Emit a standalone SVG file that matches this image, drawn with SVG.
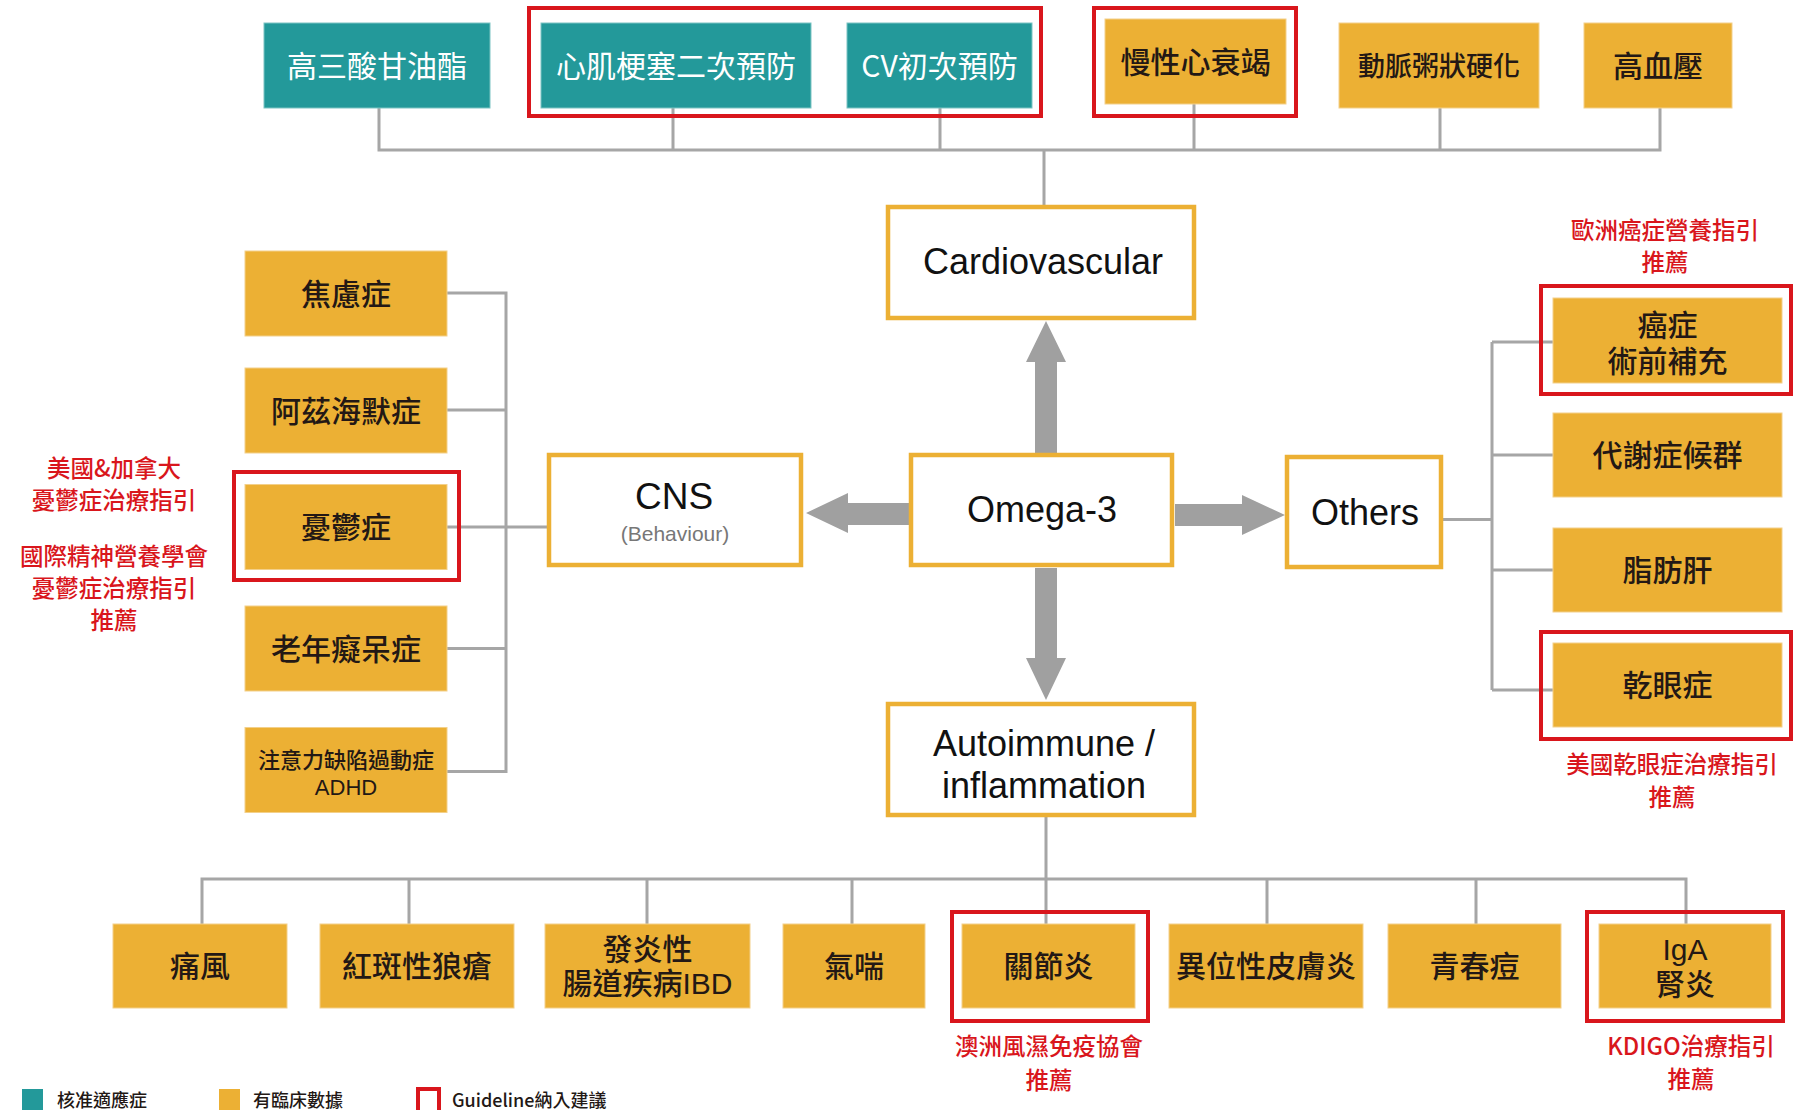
<svg xmlns="http://www.w3.org/2000/svg" width="1794" height="1110" viewBox="0 0 1794 1110">
<defs>
<style>
.teal{fill:#23999a;stroke:#7cc4c3;stroke-width:1}
.org{fill:#ecb034;stroke:#f3d08a;stroke-width:1}
.cat{fill:#ffffff;stroke:#ecb034;stroke-width:4.5}
.red{fill:none;stroke:#d9161c;stroke-width:4}
.ln{fill:none;stroke:#a6a6a6;stroke-width:3}
.arr{fill:#a0a0a0}
.tw{font-family:"Noto Sans CJK TC","Noto Sans CJK SC",sans-serif;font-size:30px;fill:#ffffff;text-anchor:middle}
.td{font-family:"Noto Sans CJK TC","Noto Sans CJK SC",sans-serif;font-size:30px;font-weight:500;fill:#231815;text-anchor:middle}
.td2{font-family:"Liberation Sans","Noto Sans CJK TC","Noto Sans CJK SC",sans-serif;font-size:30px;font-weight:500;fill:#231815;text-anchor:middle}
.tl{font-family:"Liberation Sans","Noto Sans CJK TC",sans-serif;font-size:36px;fill:#111111;text-anchor:middle}
.tr{font-family:"Noto Sans CJK TC","Noto Sans CJK SC",sans-serif;font-size:23.5px;font-weight:500;fill:#d9161c;text-anchor:middle}
.lg{font-family:"Noto Sans CJK TC","Noto Sans CJK SC",sans-serif;font-size:18px;font-weight:500;fill:#231815}
</style>
</defs>
<rect width="1794" height="1110" fill="#ffffff"/>

<g id="connectors">
<path class="ln" d="M379 108V150H1660V108M673 108V150M940 108V150M1194 104V150M1440 108V150M1044 150V206"/>
<path class="ln" d="M447 293H506V771.5H447M447 410H506M447 527H547M447 648.5H506"/>
<path class="ln" d="M1443 519.5H1492M1492 342V690M1492 342H1553M1492 455H1553M1492 570H1553M1492 690H1553"/>
<path class="ln" d="M1046 816V924M202 924V879H1686V924M409 879V924M647 879V924M852 879V924M1267 879V924M1476 879V924"/>
<polygon class="arr" points="1046,321 1066,362 1057,362 1057,453 1035,453 1035,362 1026,362"/>
<polygon class="arr" points="1035,568 1057,568 1057,658 1066,658 1046,700 1026,658 1035,658"/>
<polygon class="arr" points="806,513 848,493 848,503 909,503 909,525 848,525 848,533"/>
<polygon class="arr" points="1175,504 1242,504 1242,495 1285,515 1242,535 1242,526 1175,526"/>
</g>

<g id="omega3"><rect class="cat" x="911" y="455" width="261" height="110"/><text class="tl" x="1042" y="522">Omega-3</text></g>
<g id="cardiovascular"><rect class="cat" x="888" y="207" width="306" height="111"/><text class="tl" x="1043" y="274">Cardiovascular</text></g>
<g id="cns"><rect class="cat" x="549" y="455" width="252" height="110"/><text class="tl" x="674" y="509" style="font-size:37px">CNS</text><text class="tl" x="675" y="541" style="font-size:21px;fill:#777777">(Behaviour)</text></g>
<g id="others"><rect class="cat" x="1287" y="457" width="154" height="110"/><text class="tl" x="1365" y="525">Others</text></g>
<g id="autoimmune"><rect class="cat" x="888" y="704" width="306" height="111"/><text class="tl" x="1044" y="756"><tspan x="1044" y="756">Autoimmune /</tspan><tspan x="1044" y="798">inflammation</tspan></text></g>

<g id="tg"><rect class="teal" x="264" y="23" width="226" height="85"/><text class="tw" x="377" y="77">高三酸甘油酯</text></g>
<g id="mi"><rect class="teal" x="541" y="23" width="270" height="85"/><text class="tw" x="676" y="77">心肌梗塞二次預防</text></g>
<g id="cvprim"><rect class="teal" x="847" y="23" width="185" height="85"/><text class="tw" x="939.5" y="77">CV初次預防</text></g>
<g id="guide-cv"><rect class="red" x="529" y="8" width="512" height="108"/></g>
<g id="hf"><rect class="org" x="1105" y="19" width="181" height="85"/><text class="td" x="1195.5" y="73">慢性心衰竭</text><rect class="red" x="1094" y="8" width="202" height="108"/></g>
<g id="athero"><rect class="org" x="1339" y="23" width="200" height="85"/><text class="td" x="1439" y="76" style="font-size:27px">動脈粥狀硬化</text></g>
<g id="htn"><rect class="org" x="1584" y="23" width="148" height="85"/><text class="td" x="1658" y="77">高血壓</text></g>

<g id="anxiety"><rect class="org" x="245" y="251" width="202" height="85"/><text class="td" x="346" y="305">焦慮症</text></g>
<g id="alz"><rect class="org" x="245" y="368" width="202" height="85"/><text class="td" x="346" y="422">阿茲海默症</text></g>
<g id="dep"><rect class="org" x="245" y="484.5" width="202" height="85"/><text class="td" x="346" y="538">憂鬱症</text><rect class="red" x="234" y="472" width="225" height="108"/></g>
<g id="dementia"><rect class="org" x="245" y="606" width="202" height="85"/><text class="td" x="346" y="660">老年癡呆症</text></g>
<g id="adhd"><rect class="org" x="245" y="727.5" width="202" height="85"/><text class="td2" x="346" y="768" style="font-size:22px"><tspan x="346" y="768">注意力缺陷過動症</tspan><tspan x="346" y="795">ADHD</tspan></text></g>
<g id="dep-note"><text class="tr" x="114" y="477"><tspan x="114" y="477">美國&amp;加拿大</tspan><tspan x="114" y="509">憂鬱症治療指引</tspan></text><text class="tr" x="114" y="565"><tspan x="114" y="565">國際精神營養學會</tspan><tspan x="114" y="597">憂鬱症治療指引</tspan><tspan x="114" y="629">推薦</tspan></text></g>

<g id="cancer"><rect class="org" x="1553" y="298" width="229" height="85"/><text class="td2" x="1667.5" y="336"><tspan x="1667.5" y="336">癌症</tspan><tspan x="1667.5" y="372">術前補充</tspan></text><rect class="red" x="1541" y="286" width="250" height="108"/></g>
<g id="cancer-note"><text class="tr" x="1665" y="239"><tspan x="1665" y="239">歐洲癌症營養指引</tspan><tspan x="1665" y="271">推薦</tspan></text></g>
<g id="metab"><rect class="org" x="1553" y="413" width="229" height="84"/><text class="td" x="1667.5" y="466">代謝症候群</text></g>
<g id="fattyliver"><rect class="org" x="1553" y="528" width="229" height="84"/><text class="td" x="1667.5" y="581">脂肪肝</text></g>
<g id="dryeye"><rect class="org" x="1553" y="643" width="229" height="84"/><text class="td" x="1667.5" y="696">乾眼症</text><rect class="red" x="1541" y="632" width="250" height="107"/></g>
<g id="dryeye-note"><text class="tr" x="1672" y="773"><tspan x="1672" y="773">美國乾眼症治療指引</tspan><tspan x="1672" y="806">推薦</tspan></text></g>

<g id="gout"><rect class="org" x="113" y="924" width="174" height="84"/><text class="td" x="200" y="977">痛風</text></g>
<g id="sle"><rect class="org" x="320" y="924" width="194" height="84"/><text class="td" x="417" y="977">紅斑性狼瘡</text></g>
<g id="ibd"><rect class="org" x="545" y="924" width="205" height="84"/><text class="td2" x="647.5" y="960"><tspan x="647.5" y="960">發炎性</tspan><tspan x="647.5" y="994">腸道疾病IBD</tspan></text></g>
<g id="asthma"><rect class="org" x="783" y="924" width="142" height="84"/><text class="td" x="854" y="977">氣喘</text></g>
<g id="arthritis"><rect class="org" x="962" y="924" width="173" height="84"/><text class="td" x="1048.5" y="977">關節炎</text><rect class="red" x="952" y="912" width="196" height="109"/></g>
<g id="arthritis-note"><text class="tr" x="1049" y="1055"><tspan x="1049" y="1055">澳洲風濕免疫協會</tspan><tspan x="1049" y="1089">推薦</tspan></text></g>
<g id="atopic"><rect class="org" x="1169" y="924" width="194" height="84"/><text class="td" x="1266" y="977">異位性皮膚炎</text></g>
<g id="acne"><rect class="org" x="1388" y="924" width="173" height="84"/><text class="td" x="1474.5" y="977">青春痘</text></g>
<g id="iga"><rect class="org" x="1599" y="924" width="172" height="84"/><text class="td2" x="1685" y="960"><tspan x="1685" y="960">IgA</tspan><tspan x="1685" y="995">腎炎</tspan></text><rect class="red" x="1587" y="912" width="196" height="109"/></g>
<g id="iga-note"><text class="tr" x="1691" y="1055"><tspan x="1691" y="1055">KDIGO治療指引</tspan><tspan x="1691" y="1088">推薦</tspan></text></g>

<g id="legend">
<rect x="22" y="1089" width="21" height="24" fill="#23999a"/><text class="lg" x="57" y="1107">核准適應症</text>
<rect x="219" y="1089" width="21" height="24" fill="#ecb034"/><text class="lg" x="253" y="1107">有臨床數據</text>
<rect x="418" y="1089" width="21" height="24" fill="none" stroke="#d9161c" stroke-width="4"/><text class="lg" x="452" y="1107">Guideline納入建議</text>
</g>
</svg>
